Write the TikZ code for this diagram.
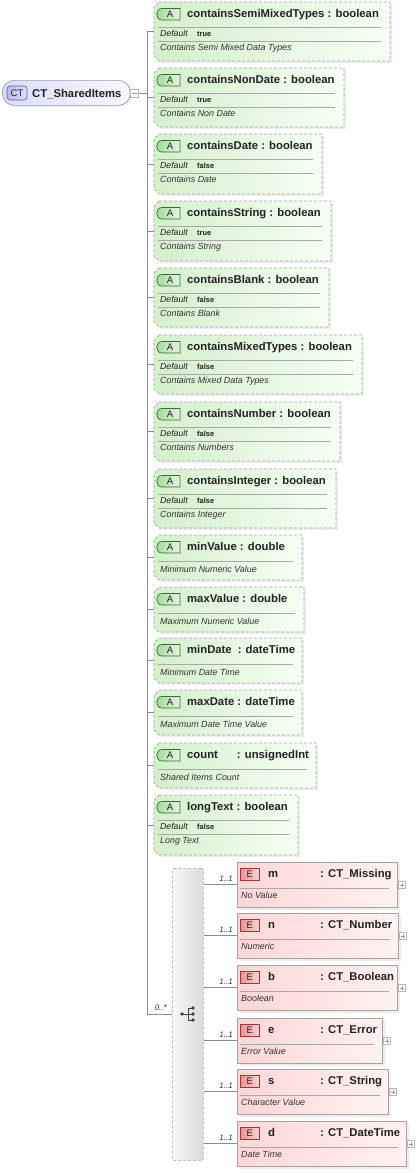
\documentclass[tikz,border=0pt]{standalone}
\usepackage{fontspec}
\setmainfont{Liberation Sans}
\usetikzlibrary{calc}
\definecolor{lineC}{HTML}{8C8C8C}
\definecolor{sepC}{HTML}{A8A8A8}
\definecolor{attrB}{HTML}{A6A6A6}
\definecolor{attrL}{HTML}{D4F0CC}
\definecolor{attrR}{HTML}{F6FFF4}
\definecolor{badgeAL}{HTML}{A0D898}
\definecolor{badgeAR}{HTML}{E4F6E0}
\definecolor{badgeAB}{HTML}{3E6A38}
\definecolor{elemL}{HTML}{FFD6D6}
\definecolor{elemR}{HTML}{FFF2F2}
\definecolor{elemB}{HTML}{A4A4A4}
\definecolor{badgeEL}{HTML}{F09090}
\definecolor{badgeER}{HTML}{FBD4D4}
\definecolor{badgeEB}{HTML}{983838}
\definecolor{rootL}{HTML}{DCDCF8}
\definecolor{rootR}{HTML}{F8F8FF}
\definecolor{rootB}{HTML}{9C9CB4}
\definecolor{ctL}{HTML}{B8B8EE}
\definecolor{ctR}{HTML}{E0E0FA}
\definecolor{ctB}{HTML}{5A5A9A}
\definecolor{txtC}{HTML}{222222}
\definecolor{descC}{HTML}{333333}
\definecolor{symC}{HTML}{404040}
\tikzset{
  conn/.style={draw=lineC, line width=0.8pt},
  sepline/.style={draw=sepC, line width=0.6pt},
  attrfill/.style={draw=attrB, line width=0.7pt, dash pattern=on 3pt off 2pt, left color=attrL, right color=attrR},
  shadowc/.style={fill=black, fill opacity=0.07},
  boxanchor/.style={anchor=north west, inner sep=0pt, draw=none},
  elembox/.style={boxanchor, draw=elemB, line width=0.7pt, left color=elemL, right color=elemR},
  badgeA/.style={draw=badgeAB, line width=0.7pt, left color=badgeAL, right color=badgeAR},
  badgeE/.style={draw=badgeEB, line width=0.7pt, left color=badgeEL, right color=badgeER},
  badgetxt/.style={inner sep=0pt, font=\fontsize{9.5}{10}\selectfont, text=txtC},
  hdr/.style={anchor=base west, inner sep=0pt, font=\fontsize{11.3}{13}\selectfont\bfseries, text=txtC},
  desc/.style={anchor=base west, inner sep=0pt, font=\fontsize{8.9}{10}\selectfont\itshape, text=descC},
  deflbl/.style={anchor=base west, inner sep=0pt, font=\fontsize{8.7}{10}\selectfont\itshape, text=txtC},
  defval/.style={anchor=base west, inner sep=0pt, font=\fontsize{7.5}{9}\selectfont\bfseries, text=txtC},
  mult/.style={anchor=base east, inner sep=0pt, font=\fontsize{8}{9}\selectfont\itshape, text=descC},
  plusbox/.style={draw=gray!55, fill=white, line width=0.5pt, minimum size=7pt, inner sep=0pt,
    path picture={\draw[gray!75, line width=0.5pt]
      ([xshift=-2pt]path picture bounding box.center) -- ([xshift=2pt]path picture bounding box.center)
      ([yshift=-2pt]path picture bounding box.center) -- ([yshift=2pt]path picture bounding box.center);}},
  minusbox/.style={draw=gray!60, fill=white, line width=0.5pt, minimum size=8pt, inner sep=0pt,
    path picture={\draw[gray!75, line width=0.5pt]
      ([xshift=-2.5pt]path picture bounding box.center) -- ([xshift=2.5pt]path picture bounding box.center);}},
  rootbox/.style={boxanchor, draw=rootB, line width=0.7pt, rounded corners=12pt, left color=rootL, right color=rootR},
  ctbadge/.style={draw=ctB, line width=0.6pt, rounded corners=3pt, left color=ctL, right color=ctR,
    minimum width=20pt, minimum height=14pt, inner sep=0pt, font=\fontsize{9.5}{10}\selectfont, text=txtC},
  choicebox/.style={boxanchor, draw=attrB, line width=0.7pt, dash pattern=on 3pt off 2pt, rounded corners=2pt,
    left color=gray!6, right color=gray!28},
}
% attribute box shape: #1 id, #2 top, #3 right, #4 bottom
\newcommand\attrshape[4]{%
  \fill[shadowc] (161,{#2+2}) -- ({#3+2},{#2+2}) -- ({#3+2},{#4+2}) -- (161,{#4+2}) -- (156,{#4-3}) -- (156,{#2+7}) -- cycle;
  \path[attrfill] (159,#2) -- (#3,#2) -- (#3,#4) -- (159,#4) -- (154,{#4-5}) -- (154,{#2+5}) -- cycle;
  \node[boxanchor, minimum width={#3pt-154pt}, minimum height={#4pt-#2pt}] (#1) at (154,#2) {};
  \draw[badgeA] (180,{#2+6.5}) -- (180,{#2+18}) -- (162,{#2+18}) .. controls (155,{#2+18}) and (155,{#2+6.5}) .. (162,{#2+6.5}) -- cycle;
  \node[badgetxt] (#1-b) at (170,{#2+12.5}) {A};
  \draw[conn] (trunk |- #1.west) -- (#1.west);
}
% attribute with default: id, top, right, bottom, header, default, description
\newcommand\attrD[7]{%
  \attrshape{#1}{#2}{#3}{#4}
  \node[hdr] (#1-h) at (187,{#2+15.5}) {#5};
  \draw[sepline] (158,{#2+25.5}) -- ({#3-9},{#2+25.5});
  \node[deflbl] (#1-dl) at (160,{#2+34.5}) {Default};
  \node[defval] (#1-dv) at (197,{#2+34}) {#6};
  \draw[sepline] (158,{#2+39.5}) -- ({#3-9},{#2+39.5});
  \node[desc] (#1-d) at (160,{#2+48.5}) {#7};
}
% attribute without default: id, top, right, header, description
\newcommand\attrN[5]{%
  \attrshape{#1}{#2}{#3}{#2+45}
  \node[hdr] (#1-h) at (187,{#2+15.5}) {#4};
  \draw[sepline] (158,{#2+26.5}) -- ({#3-9},{#2+26.5});
  \node[desc] (#1-d) at (160,{#2+37}) {#5};
}
% element: id, top, right, name, type, description
\newcommand\elem[6]{%
  \fill[shadowc] (240,{#2+3}) rectangle ({#3+2.5},{#2+47.5});
  \node[elembox, minimum width={#3pt-237pt}, minimum height=45pt] (#1) at (237,#2) {};
  \draw[badgeE] (240,{#2+6.5}) rectangle (259.5,{#2+18});
  \node[badgetxt] (#1-b) at (249.8,{#2+12.5}) {E};
  \node[hdr] (#1-n) at (268,{#2+15.5}) {#4};
  \node[hdr] (#1-t) at (320,{#2+15.5}) {: #5};
  \draw[sepline] (240,{#2+26}) -- ({#3-8},{#2+26});
  \node[desc] (#1-d) at (241,{#2+36}) {#6};
  \node[plusbox] (#1-p) at ({#3+5},{#2+23}) {};
  \draw[conn] (choice.east |- #1.west) -- (#1.west);
  \node[mult] (#1-m) at (233,{#2+19}) {1..1};
}
\begin{document}
\begin{tikzpicture}[x=1pt,y=-1pt]
\useasboundingbox (0,0) rectangle (416,1173);
\coordinate (trunk) at (147,0);
% root
\fill[shadowc, rounded corners=12pt] (4,82) rectangle (132,107);
\node[rootbox, minimum width=128pt, minimum height=25pt] (root) at (2,80) {};
\node[ctbadge] (rootb) at (17,93) {CT};
\node[hdr] (roott) at (32,97) {CT\_SharedItems};
\node[minusbox] (rootm) at (134.5,93) {};
\draw[conn] (rootm.east) -- (trunk |- rootm.east);
% choice compositor
\node[choicebox, minimum width=31pt, minimum height=292pt] (choice) at (172,868) {};
\node[inner sep=0pt, minimum size=1pt] (csym) at (188,1014) {};
\draw[symC, line width=0.8pt] ($(csym)+(-6,0)$) -- ($(csym)+(5,0)$)
  ($(csym)+(0,-6)$) -- ($(csym)+(0,6)$)
  ($(csym)+(0,-6)$) -- ($(csym)+(5,-6)$)
  ($(csym)+(0,6)$) -- ($(csym)+(5,6)$);
\fill[symC] ($(csym)+(-6,0)$) circle (1.9pt) ($(csym)+(5,-6)$) circle (1.9pt)
  ($(csym)+(5,0)$) circle (1.9pt) ($(csym)+(5,6)$) circle (1.9pt);
% attributes
\attrD{a1}{2}{390}{61}{containsSemiMixedTypes : boolean}{true}{Contains Semi Mixed Data Types}
\attrD{a2}{68}{344}{127}{containsNonDate : boolean}{true}{Contains Non Date}
\attrD{a3}{134}{322}{194}{containsDate : boolean}{false}{Contains Date}
\attrD{a4}{201}{331}{261}{containsString : boolean}{true}{Contains String}
\attrD{a5}{268}{329}{327}{containsBlank : boolean}{false}{Contains Blank}
\attrD{a6}{335}{362}{394}{containsMixedTypes : boolean}{false}{Contains Mixed Data Types}
\attrD{a7}{402}{340}{461}{containsNumber : boolean}{false}{Contains Numbers}
\attrD{a8}{469}{336}{528}{containsInteger : boolean}{false}{Contains Integer}
\attrN{a9}{535}{302}{minValue : double}{Minimum Numeric Value}
\attrN{a10}{587}{304}{maxValue : double}{Maximum Numeric Value}
\attrN{a11}{638}{302}{minDate\hspace{6pt}: dateTime}{Minimum Date Time}
\attrN{a12}{690}{302}{maxDate : dateTime}{Maximum Date Time Value}
\attrN{a13}{743}{316}{count\hspace{19pt}: unsignedInt}{Shared Items Count}
\attrD{a14}{795}{298}{855}{longText : boolean}{false}{Long Text}
% trunk and choice connector
\draw[conn] (trunk |- a1.west) -- (trunk |- csym) -- (choice.west |- csym);
\node[mult] (cmult) at (167,1010) {0..*};
% elements
\elem{e1}{862}{397}{m}{CT\_Missing}{No Value}
\elem{e2}{913}{398}{n}{CT\_Number}{Numeric}
\elem{e3}{965}{397}{b}{CT\_Boolean}{Boolean}
\elem{e4}{1018}{382}{e}{CT\_Error}{Error Value}
\elem{e5}{1069}{388}{s}{CT\_String}{Character Value}
\elem{e6}{1121}{406}{d}{CT\_DateTime}{Date Time}
\end{tikzpicture}
\end{document}
